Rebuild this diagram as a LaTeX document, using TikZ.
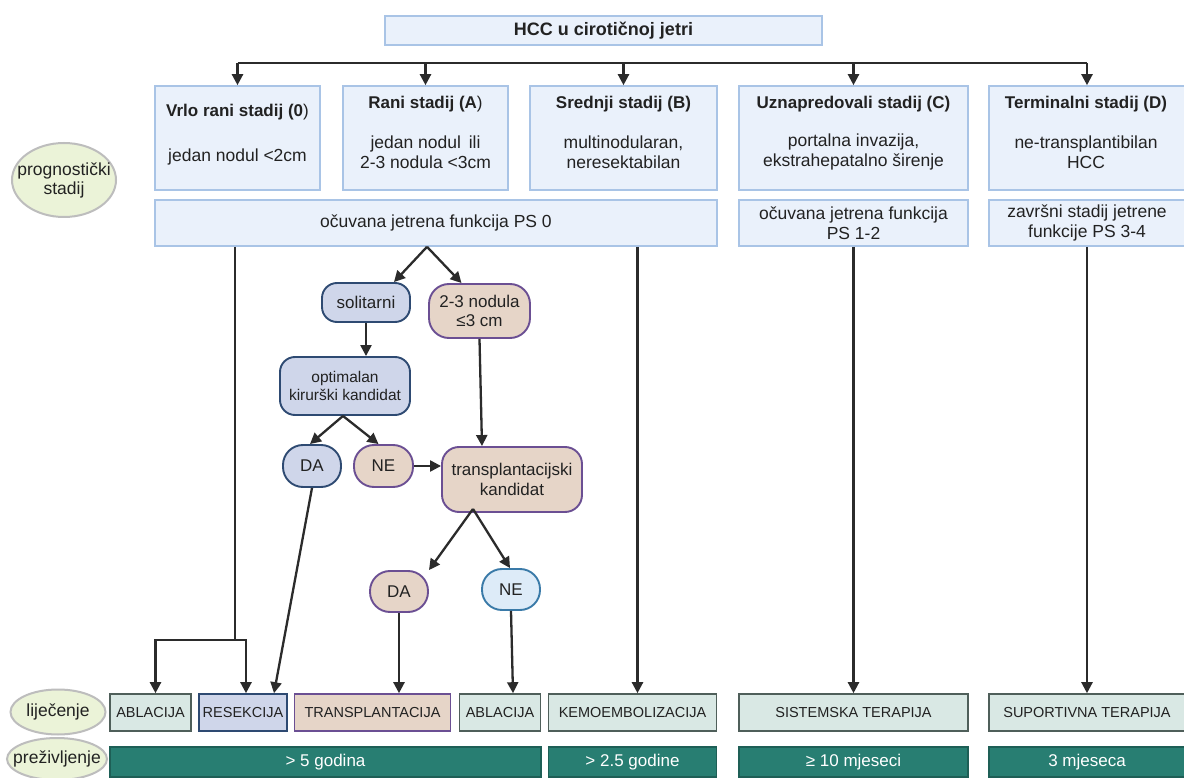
\documentclass[tikz,border=0pt]{standalone}
\usepackage{fontspec}
\setmainfont{Liberation Sans}
\usetikzlibrary{arrows.meta,shapes.geometric,calc}
\definecolor{txt}{HTML}{222222}
\definecolor{stfill}{HTML}{EAF1FB}
\definecolor{stdraw}{HTML}{A9C4E6}
\definecolor{elfill}{HTML}{EBF3D8}
\definecolor{eldraw}{HTML}{BDBDBD}
\definecolor{bfill}{HTML}{CFD6EA}
\definecolor{bdraw}{HTML}{2E4A72}
\definecolor{pfill}{HTML}{E6D5C8}
\definecolor{pdraw}{HTML}{6B4F93}
\definecolor{lbfill}{HTML}{DDEBF8}
\definecolor{lbdraw}{HTML}{3A7AA8}
\definecolor{tfill}{HTML}{D9E8E4}
\definecolor{tdraw}{HTML}{4F5F5A}
\definecolor{sfill}{HTML}{287E72}
\definecolor{sdraw}{HTML}{1E5F56}
\definecolor{lin}{HTML}{2B2B2B}
\begin{document}
\begin{tikzpicture}[x=1pt,y=-1pt,
  every node/.style={text=txt, inner sep=0pt, align=center},
  base/.style={draw, rectangle, line width=1.6pt},
  stagebox/.style={base, fill=stfill, draw=stdraw},
  ell/.style={ellipse, draw=eldraw, fill=elfill, line width=2pt},
  eltext/.style={font=\fontsize{17.5}{19}\selectfont},
  flowb/.style={base, rounded corners=15pt, fill=bfill, draw=bdraw, line width=1.9pt, font=\fontsize{17}{19.5}\selectfont},
  flowp/.style={base, rounded corners=15pt, fill=pfill, draw=pdraw, line width=1.9pt, font=\fontsize{17}{19.5}\selectfont},
  flowl/.style={base, rounded corners=15pt, fill=lbfill, draw=lbdraw, line width=1.9pt, font=\fontsize{17}{19.5}\selectfont},
  treat/.style={base, fill=tfill, draw=tdraw, font=\fontsize{14.5}{16}\selectfont},
  surv/.style={base, fill=sfill, draw=sdraw, text=white, font=\fontsize{17}{18}\selectfont},
  ttl/.style={font=\fontsize{17}{19}\selectfont\bfseries},
  body/.style={font=\fontsize{17.5}{19.5}\selectfont},
  conn/.style={draw=lin, line width=2.3pt},
  arr/.style={conn, -{Triangle[length=11pt,width=11pt]}}
]
\useasboundingbox[fill=white] (0,0) rectangle (1184,778);

% title
\node[stagebox, minimum width=437, minimum height=29, font=\fontsize{18}{19}\selectfont\bfseries] (title) at (603.5,30.5) {HCC u cirotičnoj jetri};

% stage boxes
\node[stagebox, minimum width=165, minimum height=104] (s0) at (237.5,138) {};
\node[stagebox, minimum width=165, minimum height=104] (sA) at (425.5,138) {};
\node[stagebox, minimum width=187, minimum height=104] (sB) at (623.5,138) {};
\node[stagebox, minimum width=229, minimum height=104] (sC) at (853.5,138) {};
\node[stagebox, minimum width=196, minimum height=104] (sD) at (1087,138) {};

\node[ttl] (s0t) at (237.5,112) {Vrlo rani stadij (0\textmd{)}};
\node[body] (s0b) at (237.5,157) {jedan nodul <2cm};
\node[ttl] (sAt) at (425.5,104) {Rani stadij (A\textmd{)}};
\node[body] (sAb) at (425.5,152) {jedan nodul\, ili\\2-3 nodula <3cm};
\node[ttl] (sBt) at (623.5,104) {Srednji stadij (B)};
\node[body] (sBb) at (623.5,152) {multinodularan,\\neresektabilan};
\node[ttl] (sCt) at (853.5,104) {Uznapredovali stadij (C)};
\node[body] (sCb) at (853.5,152) {portalna invazija,\\ekstrahepatalno širenje};
\node[ttl] (sDt) at (1086,104) {Terminalni stadij (D)};
\node[body] (sDb) at (1086,152) {ne-transplantibilan\\HCC};

% bus
\coordinate (busL) at (237.5,63);
\coordinate (busR) at (1087,63);
\draw[conn] (busL) -- (busR);
\foreach \n in {s0,sA,sB,sC,sD} { \draw[arr] (\n.north |- busL) -- (\n.north); }

% PS row
\node[stagebox, minimum width=562, minimum height=46, body] (ps0) at (436,223) {očuvana jetrena funkcija PS 0};
\node[stagebox, minimum width=229, minimum height=46, body] (ps12) at (853.5,223) {očuvana jetrena funkcija\\PS 1-2};
\node[stagebox, minimum width=196, minimum height=46, body] (ps34) at (1087,223) {završni stadij jetrene\\funkcije PS 3-4};

% left labels
\node[ell, minimum width=104, minimum height=74] (prog) at (64,180) {};
\node[eltext] (progt) at (prog) {prognostički\\stadij};
\node[ell, minimum width=95, minimum height=45] (lij) at (58,712) {};
\node[eltext] (lijt) at (lij) {liječenje};
\node[ell, minimum width=100, minimum height=42] (prez) at (57,759) {};
\node[eltext] (prezt) at (prez) {preživljenje};

% flow nodes
\node[flowb, minimum width=88, minimum height=39] (sol) at (366,302.5) {solitarni};
\node[flowp, minimum width=101, minimum height=54, rounded corners=20pt] (nod) at (479.5,311) {2-3 nodula\\≤3 cm};
\node[flowb, minimum width=130, minimum height=58, font=\fontsize{15.5}{18}\selectfont] (opt) at (345,386) {optimalan\\kirurški kandidat};
\node[flowb, minimum width=58, minimum height=42, rounded corners=20pt] (da1) at (312,466) {DA};
\node[flowp, minimum width=59, minimum height=42, rounded corners=20pt] (ne1) at (383.5,466) {NE};
\node[flowp, minimum width=140, minimum height=65, rounded corners=17pt] (tk) at (512,479.5) {transplantacijski\\kandidat};
\node[flowp, minimum width=58, minimum height=41, rounded corners=20pt] (da2) at (399,591.5) {DA};
\node[flowl, minimum width=58, minimum height=41, rounded corners=20pt] (ne2) at (511,589.5) {NE};

% treatment row
\node[treat, minimum width=81, minimum height=37] (ab1) at (150.5,712.5) {ABLACIJA};
\node[treat, minimum width=88, minimum height=37, fill=bfill, draw=bdraw] (res) at (243,712.5) {RESEKCIJA};
\node[treat, minimum width=156, minimum height=37, fill=pfill, draw=pdraw] (tra) at (372.5,712.5) {TRANSPLANTACIJA};
\node[treat, minimum width=81, minimum height=37] (ab2) at (500,712.5) {ABLACIJA};
\node[treat, minimum width=168, minimum height=37] (kem) at (632.5,712.5) {KEMOEMBOLIZACIJA};
\node[treat, minimum width=229, minimum height=37] (sis) at (853.5,712.5) {SISTEMSKA TERAPIJA};
\node[treat, minimum width=196, minimum height=37] (sup) at (1087,712.5) {SUPORTIVNA TERAPIJA};

% survival row
\node[surv, minimum width=431, minimum height=30] (v1) at (325.5,762) {> 5 godina};
\node[surv, minimum width=168, minimum height=30] (v2) at (632.5,762) {> 2.5 godine};
\node[surv, minimum width=229, minimum height=30] (v3) at (853.5,762) {≥ 10 mjeseci};
\node[surv, minimum width=196, minimum height=30] (v4) at (1087,762) {3 mjeseca};

% connectors from PS 0
\coordinate (j0) at (235,640);
\draw[conn] (ps0.south -| j0) -- (j0);
\draw[arr] (j0) -| ([xshift=5pt]ab1.north);
\draw[arr] (j0) -| ([xshift=3pt]res.north);
\draw[arr] ([xshift=5pt]ps0.south -| kem.north) -- ([xshift=5pt]kem.north);
\coordinate (apex) at ([xshift=-9pt]ps0.south);
\draw[arr] (apex) -- ([xshift=28pt]sol.north);
\draw[arr] (apex) -- ([xshift=-18pt]nod.north);
\draw[arr] (ps12.south) -- (sis.north);
\draw[arr] (ps34.south) -- (sup.north);

% flow connectors
\draw[arr] (sol.south) -- (sol.south |- opt.north);
\coordinate (oapex) at ([xshift=-2pt]opt.south);
\draw[arr] (oapex) -- ([xshift=-2pt]da1.north);
\draw[arr] (oapex) -- ([xshift=-5pt]ne1.north);
\draw[arr] (ne1.east) -- (tk.west |- ne1.east);
\draw[arr] (nod.south) -- ([xshift=-30pt]tk.north);
\coordinate (tapex) at ([xshift=-39pt,yshift=4pt]tk.south);
\draw[arr] (tapex) -- ([xshift=30pt]da2.north);
\draw[arr] (tapex) -- ([xshift=-1pt]ne2.north);
\draw[arr] (da1.south) -- ([xshift=31pt]res.north);
\draw[arr] (da2.south) -- (da2.south |- tra.north);
\draw[arr] (ne2.south) -- ([xshift=13pt]ab2.north);
\end{tikzpicture}
\end{document}
